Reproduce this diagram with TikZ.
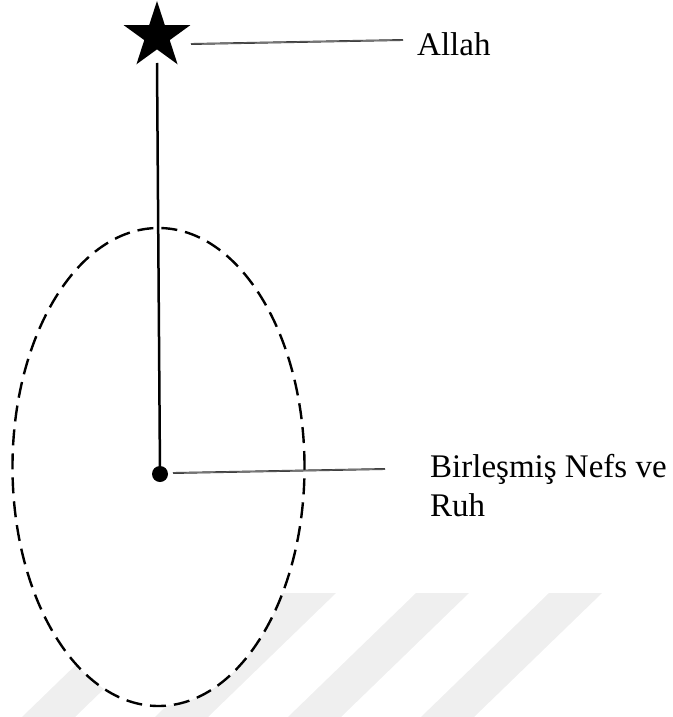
\documentclass[tikz,border=0pt]{standalone}
\usepackage{fontspec}
\setmainfont{Liberation Serif}
\usetikzlibrary{shapes.geometric}
\definecolor{wm}{RGB}{239,239,239}
\begin{document}
\begin{tikzpicture}[x=1pt,y=-1pt,
  stripe/.style={fill=wm, draw=none},
  leader/.style={draw=black!80, line width=0.7pt, double=black!40, double distance=0.5pt},
  lbl/.style={font=\fontsize{33}{39}\selectfont, inner sep=0pt, align=left},
  field/.style={ellipse, draw=black, fill=white, line width=2.4pt, dash pattern=on 16pt off 8pt, minimum width=292pt, minimum height=478pt, inner sep=0pt},
  axisline/.style={line width=2.5pt, draw=black}]
\useasboundingbox (0,0) rectangle (672,717);
% watermark stripes
\foreach \x in {150,283,416,549}{
  \fill[stripe] (\x,593) -- (\x+53,593) -- (\x+53-128,717) -- (\x-128,717) -- cycle;
}
% dashed field
\node[field] (field) at (158.5,467) {};
% star and dot
\node[star, star points=5, star point ratio=2.618, minimum size=70pt, fill=black, inner sep=0pt] (allah) at (157,36) {};
\node[circle, fill=black, minimum size=16pt, inner sep=0pt] (soul) at (160,474) {};
\coordinate (stem) at (157,63);
\draw[axisline] (stem) -- (soul.center);
% labels
\node[lbl, anchor=base west] (tallah) at (417,56) {Allah};
\node[lbl, anchor=north west] (tsoul) at (430,454) {Birleşmiş Nefs ve\\Ruh};
% leaders
\coordinate (a1) at (191,44);
\coordinate (a2) at (403,40);
\coordinate (b1) at (173,473);
\coordinate (b2) at (385,469);
\draw[leader] (a1) -- (a2);
\draw[leader] (b1) -- (b2);
\end{tikzpicture}
\end{document}
